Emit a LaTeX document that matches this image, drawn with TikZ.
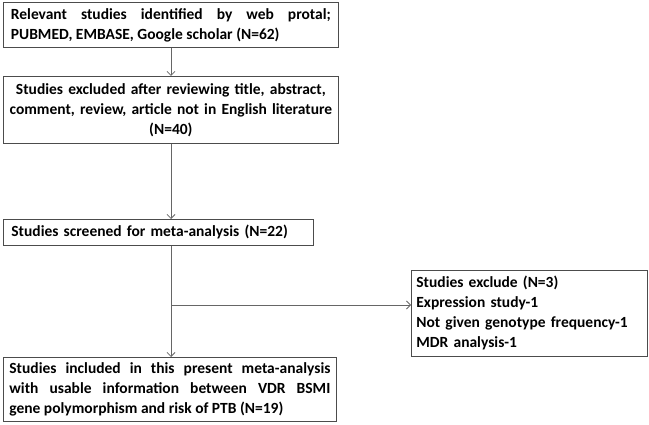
\documentclass[tikz,border=0pt]{standalone}
\usepackage{fontspec}
\setmainfont{Carlito}
\usepackage{tikz}
\usetikzlibrary{arrows.meta}

\begin{document}
\begin{tikzpicture}[x=1pt,y=-1pt]
        \useasboundingbox (0,0) rectangle (649,425);
        \begin{scope}[every node/.style={draw=black!70,line width=0.8pt,anchor=north west,inner xsep=7.5pt,inner ysep=0pt,font=\fontsize{15.5}{20}\selectfont\bfseries}]
            \node[text width=320pt,align=justify,minimum height=45pt] (1) at (3,2) {Relevant studies identified by web protal;\linebreak PUBMED, EMBASE, Google scholar (N=62)};
            \node[text width=329pt,inner xsep=3pt,align=center,minimum height=67pt] (2) at (3,76) {Studies excluded after reviewing title, abstract,\\ comment, review, article not in English literature\\ (N=40)};

            \node[text width=294pt,inner xsep=8pt,align=left,minimum height=26pt] (3) at (3,219) {Studies screened for meta-analysis (N=22)};

            \node[text width=321pt,inner xsep=6pt,align=justify,minimum height=64pt] (4) at (3,357) {Studies included in this present meta-analysis\linebreak with usable information between VDR BSMI\linebreak gene polymorphism and risk of PTB (N=19)};

            \node[text width=226pt,inner xsep=5pt,align=left,minimum height=86pt] (5) at (411,270) {Studies exclude (N=3)\\ Expression study-1\\ Not given genotype frequency-1\\ MDR analysis-1};
        \end{scope}
        \coordinate (b) at (171,305);
        \begin{scope}[every edge/.style={draw=black!60,line width=0.8pt,-{Straight Barb[length=4pt,width=8pt]}}]
            \path (1.south -| b) edge (2.north -| b);
            \path (2.south -| b) edge (3.north -| b);
            \path (3.south -| b) edge (4.north -| b);

            \path (b) edge (b -| 5.west);
        \end{scope}
    \end{tikzpicture}
\end{document}
